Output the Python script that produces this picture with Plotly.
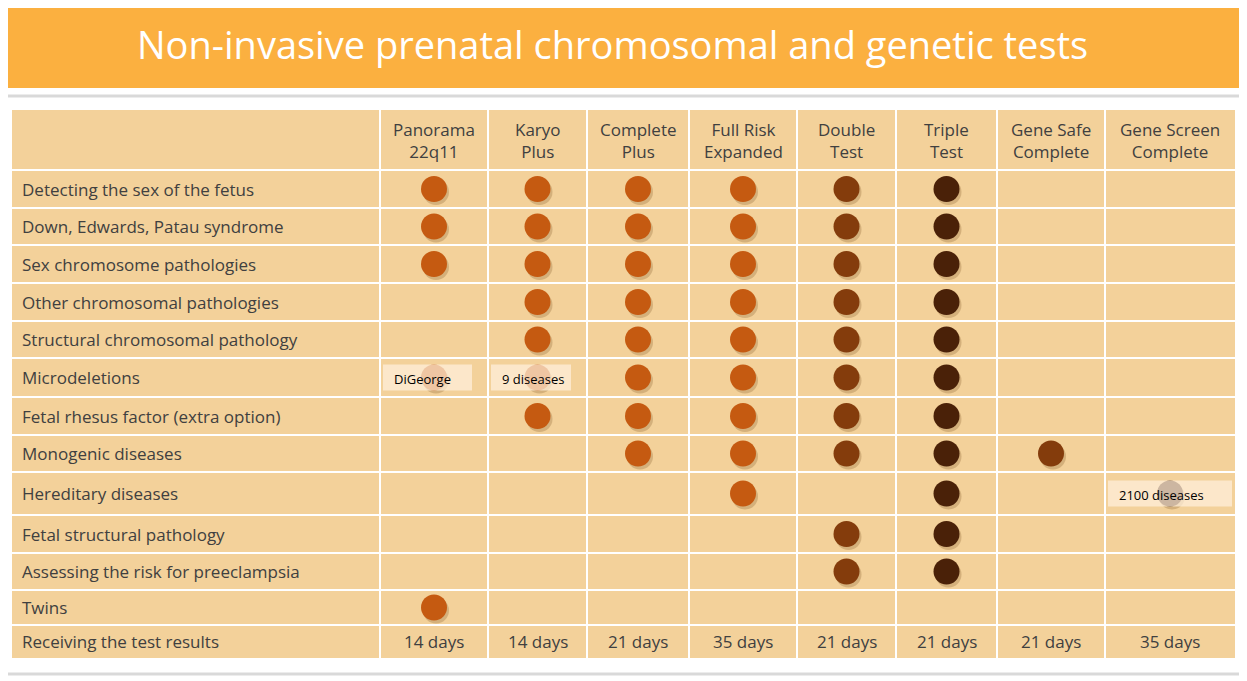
import plotly.graph_objects as go

tests = ["Panorama<br>22q11", "Karyo<br>Plus", "Complete<br>Plus", "Full Risk<br>Expanded",
         "Double<br>Test", "Triple<br>Test", "Gene Safe<br>Complete", "Gene Screen<br>Complete"]
features = ["Detecting the sex of the fetus", "Down, Edwards, Patau syndrome", "Sex chromosome pathologies",
            "Other chromosomal pathologies", "Structural chromosomal pathology", "Microdeletions",
            "Fetal rhesus factor (extra option)", "Monogenic diseases", "Hereditary diseases",
            "Fetal structural pathology", "Assessing the risk for preeclampsia", "Twins"]
result_days = ["14 days", "14 days", "21 days", "35 days", "21 days", "21 days", "21 days", "35 days"]
# 1 = available (dot), 0 = not
matrix = [
    [1,1,1,1,1,1,0,0],
    [1,1,1,1,1,1,0,0],
    [1,1,1,1,1,1,0,0],
    [0,1,1,1,1,1,0,0],
    [0,1,1,1,1,1,0,0],
    [1,1,1,1,1,1,0,0],
    [0,1,1,1,1,1,0,0],
    [0,0,1,1,1,1,1,0],
    [0,0,0,1,0,1,0,1],
    [0,0,0,0,1,1,0,0],
    [0,0,0,0,1,1,0,0],
    [1,0,0,0,0,0,0,0],
]
notes = {(5,0): "DiGeorge", (5,1): "9 diseases", (8,7): "2100 diseases"}
test_colors = ["#c55a11","#c55a11","#c55a11","#c55a11","#843c0c","#4a2108","#843c0c","#4a2108"]

# layout geometry (pixel space)
xb = [12, 380, 488, 587, 689, 797, 896, 997, 1105, 1235]
yb = [110, 170, 208, 245, 283, 321, 358, 397, 435, 472, 515, 553, 590, 625, 658]

fig = go.Figure()
shapes = []
shapes.append(dict(type="rect", xref="x", yref="y", x0=3, x1=1243, y0=5, y1=88, fillcolor="#fbb040", line=dict(width=0), layer="below"))
shapes.append(dict(type="rect", xref="x", yref="y", x0=4, x1=1242, y0=96, y1=674, fillcolor="#ffffff", line=dict(color="#d9d9d9", width=3), layer="below"))
shapes.append(dict(type="rect", xref="x", yref="y", x0=xb[0], x1=xb[-1], y0=yb[0], y1=yb[-1], fillcolor="#f3d19a", line=dict(width=0), layer="below"))
for x in xb[1:-1]:
    shapes.append(dict(type="line", xref="x", yref="y", x0=x, x1=x, y0=yb[0], y1=yb[-1], line=dict(color="white", width=2)))
for y in yb[1:-1]:
    shapes.append(dict(type="line", xref="x", yref="y", x0=xb[0], x1=xb[-1], y0=y, y1=y, line=dict(color="white", width=2)))

ann = []
ann.append(dict(x=612, y=44, xref="x", yref="y", text="Non-invasive prenatal chromosomal and genetic tests", showarrow=False,
                font=dict(size=38, color="white", family="Open Sans")))
for j, t in enumerate(tests):
    ann.append(dict(x=(xb[j+1]+xb[j+2])/2, y=(yb[0]+yb[1])/2, xref="x", yref="y", text=t, showarrow=False,
                    font=dict(size=17, color="#404040", family="Open Sans")))
for i, f in enumerate(features + ["Receiving the test results"]):
    ann.append(dict(x=20, y=(yb[i+1]+yb[i+2])/2, xref="x", yref="y", text=f, showarrow=False, xanchor="left",
                    font=dict(size=17, color="#404040", family="Open Sans")))
for j, d in enumerate(result_days):
    ann.append(dict(x=(xb[j+1]+xb[j+2])/2, y=(yb[-2]+yb[-1])/2, xref="x", yref="y", text=d, showarrow=False,
                    font=dict(size=17, color="#404040", family="Open Sans")))

for j in range(len(tests)):
    xs, ys = [], []
    for i in range(len(features)):
        if matrix[i][j]:
            xs.append((xb[j+1]+xb[j+2])/2)
            ys.append((yb[i+1]+yb[i+2])/2)
    fig.add_trace(go.Scatter(x=[x+2 for x in xs], y=[y+3 for y in ys], mode="markers", hoverinfo="skip",
                             marker=dict(size=26, color="rgba(120,80,30,0.25)", line=dict(width=0))))
    fig.add_trace(go.Scatter(x=xs, y=ys, mode="markers", name=tests[j],
                             marker=dict(size=26, color=test_colors[j], line=dict(width=0))))

for (i, j), txt in notes.items():
    cx0, cx1 = xb[j+1], xb[j+2]
    cy = (yb[i+1]+yb[i+2])/2
    shapes.append(dict(type="rect", xref="x", yref="y", x0=cx0+3, x1=cx1-16 if j < 2 else cx1-3, y0=cy-13, y1=cy+13,
                       fillcolor="rgba(255,240,220,0.72)", line=dict(width=0), layer="above"))
    ann.append(dict(x=cx0+12, y=cy+1, xref="x", yref="y", text=txt, showarrow=False, xanchor="left",
                    font=dict(size=13, color="black", family="Open Sans")))

fig.update_layout(width=1247, height=681, margin=dict(l=0, r=0, t=0, b=0), showlegend=False,
                  plot_bgcolor="white", paper_bgcolor="white", shapes=shapes, annotations=ann,
                  xaxis=dict(range=[8, 1255], visible=False, fixedrange=True),
                  yaxis=dict(range=[689, 8], visible=False, fixedrange=True))
fig.write_html("out.html")
